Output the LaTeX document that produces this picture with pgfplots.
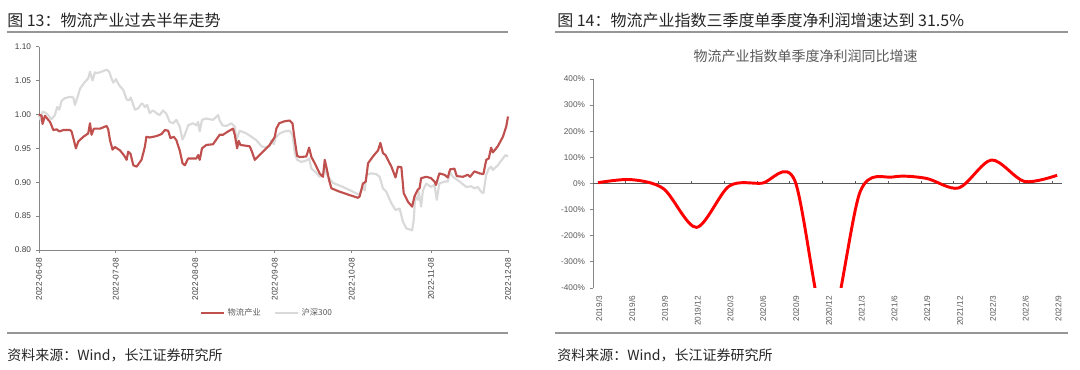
\documentclass[border=0pt]{standalone}
\usepackage{fontspec}
\setmainfont{Liberation Sans}
\newfontfamily\cjk{Noto Sans CJK SC}
\usepackage{pgfplots}
\usepackage{pgfplotstable}
\pgfplotsset{compat=1.18}
\definecolor{lred}{RGB}{192,80,77}
\definecolor{lgray}{RGB}{217,217,217}
\definecolor{axgray}{RGB}{134,134,134}
\definecolor{txtgray}{RGB}{89,89,89}
\definecolor{lbl}{RGB}{64,64,64}
\definecolor{rulegray}{RGB}{150,150,150}

\pgfplotstableread{
d v
0 1.000
1.0 0.998
1.4 0.986
2.3 0.998
4.3 0.989
5.6 0.977
6.9 0.978
7.9 0.975
9.5 0.977
12.1 0.977
12.7 0.975
13.6 0.962
14.4 0.950
15.3 0.960
17.3 0.967
19.2 0.972
19.9 0.987
20.5 0.970
21.4 0.979
23.8 0.979
26.4 0.983
27.0 0.978
27.7 0.962
28.7 0.948
29.6 0.952
31.6 0.947
33.1 0.940
34.2 0.933
34.8 0.945
35.7 0.942
36.8 0.925
38.1 0.923
40.0 0.933
41.3 0.952
41.9 0.967
43.2 0.966
45.8 0.968
47.8 0.971
49.1 0.977
50.4 0.976
51.3 0.965
52.6 0.967
53.6 0.962
54.9 0.947
56.0 0.928
56.9 0.925
58.2 0.935
61.4 0.935
62.1 0.940
62.7 0.933
63.6 0.950
65.3 0.955
67.9 0.956
70.5 0.970
71.8 0.970
73.8 0.975
75.7 0.979
76.4 0.970
77.3 0.950
77.9 0.961
78.6 0.955
82.2 0.953
82.9 0.947
84.2 0.933
85.5 0.938
87.4 0.945
90.0 0.955
91.4 0.963
92.0 0.967
92.6 0.979
93.7 0.987
95.9 0.990
97.8 0.991
98.9 0.987
99.8 0.962
100.7 0.939
101.7 0.937
104.3 0.938
105.4 0.951
106.3 0.937
107.6 0.928
109.5 0.913
110.8 0.908
111.5 0.933
112.1 0.923
113.2 0.903
114.1 0.891
117.3 0.886
121.2 0.881
124.5 0.877
125.1 0.879
126.4 0.898
127.5 0.901
128.4 0.928
130.3 0.938
132.3 0.947
133.2 0.958
134.2 0.943
135.2 0.940
137.5 0.923
139.1 0.907
140.1 0.923
141.4 0.922
142.3 0.884
144.0 0.871
145.6 0.864
146.5 0.879
147.8 0.889
148.5 0.891
149.1 0.906
151.1 0.908
153.0 0.906
154.3 0.901
154.9 0.896
156.2 0.913
158.2 0.911
159.5 0.907
160.4 0.919
162.1 0.920
163.0 0.909
165.4 0.908
167.3 0.911
168.2 0.908
169.9 0.916
171.9 0.913
173.4 0.912
174.5 0.933
175.5 0.935
176.4 0.951
177.1 0.944
179.0 0.953
181.0 0.967
182.3 0.982
183.0 0.997
}\wuliu

\pgfplotstableread{
d v
0 0.999
0.6 0.992
1.4 1.004
2.3 1.003
3.6 0.999
4.9 0.993
6.2 0.999
7.1 1.011
7.9 1.007
8.8 1.020
10.1 1.024
12.1 1.026
13.4 1.025
14.0 1.014
14.9 1.024
16.0 1.038
17.9 1.048
19.2 1.053
19.9 1.063
20.9 1.050
21.8 1.062
22.7 1.061
24.4 1.063
26.4 1.066
27.4 1.063
28.3 1.053
29.0 1.047
30.0 1.052
31.3 1.043
32.9 1.036
34.2 1.022
35.2 1.021
35.8 1.025
36.8 1.014
37.4 1.007
38.7 1.009
40.0 1.016
40.6 1.015
41.3 1.011
42.2 1.014
43.2 1.002
44.5 1.006
45.8 1.002
47.1 0.999
48.4 1.006
49.7 1.001
51.0 0.989
52.3 0.987
53.6 0.992
54.9 0.982
56.0 0.963
56.9 0.970
58.2 0.984
60.1 0.987
61.4 0.984
62.1 0.989
62.7 0.975
63.6 0.992
65.3 0.994
67.9 0.992
69.9 0.999
70.5 0.991
71.6 0.984
73.1 0.983
75.1 0.987
76.4 0.982
77.0 0.962
78.3 0.976
80.9 0.972
82.9 0.967
84.8 0.962
86.8 0.953
88.7 0.951
90.0 0.953
90.6 0.962
91.6 0.956
92.4 0.966
93.9 0.972
95.9 0.975
97.8 0.976
98.9 0.970
99.8 0.943
100.7 0.933
102.4 0.930
104.3 0.932
105.4 0.935
106.3 0.920
107.6 0.916
109.5 0.908
110.8 0.911
111.5 0.923
112.1 0.913
113.2 0.906
114.7 0.899
118.6 0.893
122.5 0.886
125.1 0.881
126.2 0.893
127.1 0.888
127.7 0.911
129.7 0.913
131.6 0.912
132.9 0.908
134.2 0.891
135.5 0.886
137.5 0.869
139.1 0.859
140.7 0.861
142.0 0.842
143.3 0.832
145.6 0.829
146.2 0.844
146.8 0.879
147.8 0.874
148.2 0.886
149.1 0.864
149.8 0.888
151.1 0.898
153.0 0.893
154.3 0.896
155.2 0.874
156.2 0.898
158.2 0.901
159.5 0.901
160.4 0.915
161.5 0.908
164.1 0.901
166.7 0.893
168.6 0.894
169.9 0.891
171.2 0.893
172.5 0.886
173.4 0.884
174.5 0.911
175.5 0.920
176.4 0.923
177.1 0.918
179.0 0.925
181.0 0.935
182.0 0.940
183.0 0.938
}\hushen

\begin{document}
\begin{tikzpicture}
\path[use as bounding box] (0,0) rectangle (810pt,277.5pt);

% titles and rules
\node[anchor=west, inner sep=0pt, text=black!85] at (5.25pt,262.5pt) {\cjk\fontsize{12}{14}\selectfont 图 13：物流产业过去半年走势};
\node[anchor=west, inner sep=0pt, text=black!85] at (417.75pt,262.5pt) {\cjk\fontsize{12}{14}\selectfont 图 14：物流产业指数三季度单季度净利润增速达到 31.5\%};
\draw[rulegray, line width=1.1pt] (5.25pt,253.5pt) -- (381pt,253.5pt);
\draw[rulegray, line width=1.1pt] (416.25pt,253.5pt) -- (801pt,253.5pt);
\draw[rulegray, line width=1.1pt] (5.25pt,27.75pt) -- (381pt,27.75pt);
\draw[rulegray, line width=1.1pt] (416.25pt,27.75pt) -- (801pt,27.75pt);
\node[anchor=west, inner sep=0pt, text=black!85] at (5.25pt,11.25pt) {\cjk\fontsize{10.5}{12}\selectfont 资料来源：Wind，长江证券研究所};
\node[anchor=west, inner sep=0pt, text=black!85] at (417.75pt,11.25pt) {\cjk\fontsize{10.5}{12}\selectfont 资料来源：Wind，长江证券研究所};
\node[inner sep=0pt, text=txtgray] at (604.3pt,235.5pt) {\cjk\fontsize{10.5}{12}\selectfont 物流产业指数单季度净利润同比增速};

% left chart
\begin{axis}[
  at={(29.25pt,90pt)}, anchor=south west, scale only axis,
  width=351.75pt, height=152.5pt,
  xmin=0, xmax=183, ymin=0.8, ymax=1.1,
  axis lines*=left,
  axis line style={axgray, line width=0.7pt},
  tick align=outside, major tick length=2.5pt,
  tick style={axgray, line width=0.6pt},
  xtick={0,30,61,92,122,153,183},
  xticklabels={2022-06-08,2022-07-08,2022-08-08,2022-09-08,2022-10-08,2022-11-08,2022-12-08},
  xticklabel style={rotate=90, anchor=east, font=\fontsize{6.2}{7}\selectfont, text=lbl},
  ytick={0.80,0.85,0.90,0.95,1.00,1.05,1.10},
  yticklabels={0.80,0.85,0.90,0.95,1.00,1.05,1.10},
  yticklabel style={font=\fontsize{6.2}{7}\selectfont, text=lbl},
  legend style={at={(axis description cs:0.487,-0.31)}, anchor=center, draw=none, fill=none,
    legend columns=2, font=\cjk\fontsize{6.2}{7}\selectfont, text=txtgray,
    /tikz/every even column/.append style={column sep=8pt}},
  legend cell align=left,
  clip=false,
]
\addlegendimage{lred, line width=1.6pt}
\addlegendentry{物流产业}
\addlegendimage{lgray, line width=1.6pt}
\addlegendentry{沪深300}
\addplot[lgray, line width=1.6pt, line join=round, forget plot] table[x=d,y=v] {\hushen};
\addplot[lred, line width=1.6pt, line join=round, forget plot] table[x=d,y=v] {\wuliu};
\end{axis}

% right chart
\begin{axis}[
  at={(444.75pt,61.5pt)}, anchor=south west, scale only axis,
  width=351.75pt, height=156.75pt,
  xmin=-0.15, xmax=14.15, ymin=-400, ymax=400,
  axis lines*=left,
  x axis line style={draw=none},
  y axis line style={axgray, line width=0.7pt},
  tick align=outside, major tick length=2.5pt,
  ytick style={axgray, line width=0.6pt},
  xtick style={draw=none},
  xtick={0,1,2,3,4,5,6,7,8,9,10,11,12,13,14},
  xticklabels={2019/3,2019/6,2019/9,2019/12,2020/3,2020/6,2020/9,2020/12,2021/3,2021/6,2021/9,2021/12,2022/3,2022/6,2022/9},
  xticklabel style={rotate=90, anchor=east, font=\fontsize{6.2}{7}\selectfont, text=txtgray, yshift=-1pt},
  ytick={-400,-300,-200,-100,0,100,200,300,400},
  yticklabels={-400\%,-300\%,-200\%,-100\%,0\%,100\%,200\%,300\%,400\%},
  yticklabel style={font=\fontsize{6.2}{7}\selectfont, text=txtgray},
]
\draw[txtgray, line width=0.75pt] (axis cs:-0.15,0) -- (axis cs:14.15,0);
\pgfplotsinvokeforeach{1,...,14}{\draw[txtgray, line width=0.6pt] (axis cs:{#1-0.15},0) -- ++(0pt,2pt);}
\addplot[red, line width=2.2pt, smooth, line join=round] coordinates {
(0,3) (1,15) (2,-20) (3,-168) (4,-10) (5,1) (6,12) (7,-580) (8,-30) (9,25) (10,20) (11,-17) (12,90) (13,8) (14,31.5)
};
\end{axis}
\end{tikzpicture}
\end{document}
